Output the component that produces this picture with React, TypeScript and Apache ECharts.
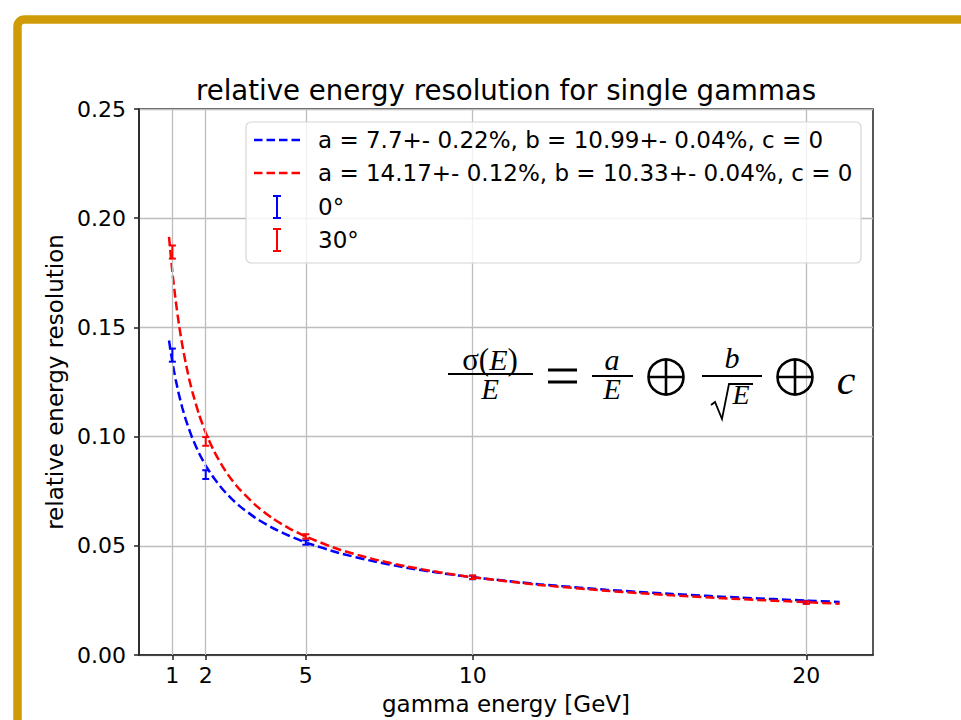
import React, { useEffect, useRef } from "react";
import * as echarts from "echarts";

// Fit curves
const fitEnergies = [0.9, 1, 1.1, 1.2, 1.3, 1.4, 1.5, 1.6, 1.8, 2, 2.25, 2.5, 2.75, 3, 3.5, 4, 4.5, 5, 6, 7, 8, 9, 10, 12, 14, 16, 18, 20, 21];
const fitBlue = [0.144, 0.1342, 0.126, 0.1191, 0.1131, 0.1079, 0.1034, 0.0993, 0.0924, 0.0867, 0.0809, 0.076, 0.0719, 0.0684, 0.0627, 0.0582, 0.0546, 0.0515, 0.0467, 0.043, 0.04, 0.0376, 0.0356, 0.0324, 0.0299, 0.0279, 0.0263, 0.0249, 0.0243];
const fitRed = [0.1914, 0.1754, 0.1622, 0.1511, 0.1417, 0.1337, 0.1266, 0.1205, 0.1101, 0.1018, 0.0933, 0.0865, 0.0808, 0.0761, 0.0685, 0.0626, 0.058, 0.0542, 0.0483, 0.044, 0.0406, 0.0379, 0.0356, 0.0321, 0.0294, 0.0273, 0.0256, 0.0242, 0.0235];

// Measured points with errors
const measEnergies = [1, 2, 5, 10, 20];
const meas0 = [0.1373, 0.0826, 0.0515, 0.0355, 0.0242];
const err0 = [0.003, 0.002, 0.001, 0.0008, 0.0006];
const meas30 = [0.1845, 0.0978, 0.0543, 0.0356, 0.024];
const err30 = [0.003, 0.002, 0.001, 0.0008, 0.0006];

const xTicks = [1, 2, 5, 10, 20];

const legendLabels = [
  "a = 7.7+- 0.22%, b = 10.99+- 0.04%, c = 0",
  "a = 14.17+- 0.12%, b = 10.33+- 0.04%, c = 0",
  "0°",
  "30°",
];

const BLUE = "#0000ff";
const RED = "#ff0000";
const SANS = "DejaVu Sans";
const SERIF = "Liberation Serif";

function errorSeries(name: string, color: string, ys: number[], errs: number[]) {
  return {
    name,
    type: "custom",
    z: 5,
    data: measEnergies.map((e, i) => [e, ys[i], errs[i]]),
    encode: { x: 0, y: 1 },
    renderItem: (params: any, api: any) => {
      const x = api.value(0);
      const y = api.value(1);
      const e = api.value(2);
      const top = api.coord([x, y + e]);
      const bot = api.coord([x, y - e]);
      const hw = 3.5;
      const st = { stroke: color, lineWidth: 2 };
      return {
        type: "group",
        children: [
          { type: "line", shape: { x1: top[0], y1: top[1], x2: bot[0], y2: bot[1] }, style: st },
          { type: "line", shape: { x1: top[0] - hw, y1: top[1], x2: top[0] + hw, y2: top[1] }, style: st },
          { type: "line", shape: { x1: bot[0] - hw, y1: bot[1], x2: bot[0] + hw, y2: bot[1] }, style: st },
        ],
      };
    },
  };
}

function oplus(cx: number, cy: number, r: number) {
  const st = { stroke: "#000", lineWidth: 2.6, fill: "none" };
  return [
    { type: "circle", shape: { cx, cy, r }, style: st, z: 50 },
    { type: "line", shape: { x1: cx - r, y1: cy, x2: cx + r, y2: cy }, style: st, z: 50 },
    { type: "line", shape: { x1: cx, y1: cy - r, x2: cx, y2: cy + r }, style: st, z: 50 },
  ];
}

function legendGraphics() {
  const els: any[] = [];
  els.push({
    type: "rect",
    shape: { x: 246, y: 122, width: 615, height: 141, r: 5 },
    style: { fill: "rgba(255,255,255,0.8)", stroke: "#d6d6d6", lineWidth: 1.2 },
    z: 100,
  });
  const rowsY = [140, 173, 207, 240];
  const colors = [BLUE, RED, BLUE, RED];
  rowsY.forEach((y, i) => {
    if (i < 2) {
      els.push({
        type: "line",
        shape: { x1: 254, y1: y, x2: 301, y2: y },
        style: { stroke: colors[i], lineWidth: 2.4, lineDash: [8.5, 4] },
        z: 101,
      });
    } else {
      const st = { stroke: colors[i], lineWidth: 2 };
      els.push({ type: "line", shape: { x1: 277, y1: y - 11, x2: 277, y2: y + 11 }, style: st, z: 101 });
      els.push({ type: "line", shape: { x1: 273, y1: y - 11, x2: 281, y2: y - 11 }, style: st, z: 101 });
      els.push({ type: "line", shape: { x1: 273, y1: y + 11, x2: 281, y2: y + 11 }, style: st, z: 101 });
    }
    els.push({
      type: "text",
      x: 318,
      y,
      style: {
        text: legendLabels[i],
        fontFamily: SANS,
        fontSize: 23,
        fill: "#000",
        verticalAlign: "middle",
        align: "left",
      },
      z: 101,
    });
  });
  return els;
}

function formulaGraphics() {
  const els: any[] = [];
  const txt = (x: number, y: number, text: string, size: number, italic: boolean) => ({
    type: "text",
    x,
    y,
    style: {
      text,
      fontFamily: SERIF,
      fontSize: size,
      fontStyle: italic ? "italic" : "normal",
      fill: "#000",
      align: "center",
      verticalAlign: "middle",
    },
    z: 50,
  });
  const bar = (x1: number, x2: number, y: number) => ({
    type: "line",
    shape: { x1, y1: y, x2, y2: y },
    style: { stroke: "#000", lineWidth: 2 },
    z: 50,
  });
  // sigma(E) / E
  els.push({
    type: "text",
    x: 490,
    y: 359,
    style: {
      text: "{u|σ(}{i|E}{u|)}",
      rich: {
        u: { fontFamily: SERIF, fontSize: 31, fill: "#000" },
        i: { fontFamily: SERIF, fontSize: 30, fontStyle: "italic", fill: "#000" },
      },
      align: "center",
      verticalAlign: "middle",
    },
    z: 50,
  });
  els.push(bar(448, 533, 374));
  els.push(txt(490, 389, "E", 29, true));
  // equals
  els.push({ type: "line", shape: { x1: 548, y1: 370, x2: 577, y2: 370 }, style: { stroke: "#000", lineWidth: 3 }, z: 50 });
  els.push({ type: "line", shape: { x1: 548, y1: 382, x2: 577, y2: 382 }, style: { stroke: "#000", lineWidth: 3 }, z: 50 });
  // a / E
  els.push(txt(612, 359, "a", 30, true));
  els.push(bar(592, 633, 376));
  els.push(txt(612, 389, "E", 29, true));
  els.push(...oplus(666, 377, 17.5));
  // b / sqrt(E)
  els.push(txt(732, 357, "b", 30, true));
  els.push(bar(702, 762, 376));
  els.push({
    type: "polyline",
    shape: { points: [[711, 405], [715, 402], [722, 419], [729, 384], [753, 384]] },
    style: { stroke: "#000", lineWidth: 1.8, fill: "none" },
    z: 50,
  });
  els.push(txt(741, 394, "E", 28, true));
  els.push(...oplus(795, 377, 17.5));
  // c
  els.push(txt(846, 380, "c", 42, true));
  return els;
}

export default function App() {
  const ref = useRef<HTMLDivElement>(null);
  useEffect(() => {
    if (!ref.current) return;
    const chart = echarts.init(ref.current, undefined, { renderer: "svg" });
    const axisColor = "#222";
    chart.setOption({
      animation: false,
      backgroundColor: "#fff",
      title: {
        text: "relative energy resolution for single gammas",
        left: 506,
        top: 76,
        padding: 0,
        textAlign: "center",
        textStyle: { fontFamily: SANS, fontSize: 27.6, fontWeight: "normal", color: "#000" },
      },
      grid: {
        left: 139,
        right: 88,
        top: 109,
        bottom: 64,
        show: true,
        borderColor: axisColor,
        borderWidth: 1.5,
        backgroundColor: "transparent",
      },
      xAxis: {
        type: "value",
        min: 0,
        max: 22,
        name: "gamma energy [GeV]",
        nameLocation: "middle",
        nameGap: 37,
        nameTextStyle: { fontFamily: SANS, fontSize: 23, color: "#000" },
        axisLine: { show: true, lineStyle: { color: axisColor, width: 1.5 } },
        axisTick: { show: true, length: 5, customValues: xTicks, lineStyle: { color: axisColor, width: 1.5 } },
        axisLabel: {
          customValues: xTicks,
          fontFamily: SANS,
          fontSize: 22,
          color: "#000",
          margin: 9,
        },
        splitLine: { show: false },
      },
      yAxis: {
        type: "value",
        min: 0,
        max: 0.25,
        interval: 0.05,
        name: "relative energy resolution",
        nameLocation: "middle",
        nameGap: 70,
        nameTextStyle: { fontFamily: SANS, fontSize: 23, color: "#000" },
        axisLine: { show: true, lineStyle: { color: axisColor, width: 1.5 } },
        axisTick: { show: true, length: 5, lineStyle: { color: axisColor, width: 1.5 } },
        axisLabel: {
          fontFamily: SANS,
          fontSize: 22,
          color: "#000",
          margin: 13,
          formatter: (v: number) => v.toFixed(2),
        },
        splitLine: { show: true, lineStyle: { color: "#bdbdbd", width: 1.3 } },
      },
      series: [
        {
          name: "grid-x",
          type: "line",
          data: [],
          z: 1,
          silent: true,
          markLine: {
            silent: true,
            symbol: "none",
            label: { show: false },
            lineStyle: { color: "#bdbdbd", width: 1.3, type: "solid" },
            data: xTicks.map((v) => ({ xAxis: v })),
          },
        },
        {
          name: legendLabels[0],
          type: "line",
          z: 3,
          data: fitEnergies.map((e, i) => [e, fitBlue[i]]),
          showSymbol: false,
          symbol: "none",
          smooth: 0.2,
          lineStyle: { color: BLUE, width: 2.5, type: [9, 4] },
        },
        {
          name: legendLabels[1],
          type: "line",
          z: 3,
          data: fitEnergies.map((e, i) => [e, fitRed[i]]),
          showSymbol: false,
          symbol: "none",
          smooth: 0.2,
          lineStyle: { color: RED, width: 2.5, type: [9, 4] },
        },
        errorSeries(legendLabels[2], BLUE, meas0, err0),
        errorSeries(legendLabels[3], RED, meas30, err30),
      ],
      graphic: [
        {
          type: "rect",
          shape: { x: 17.5, y: 19.5, width: 1100, height: 900, r: 7 },
          style: { fill: "none", stroke: "#cf9c08", lineWidth: 8.5 },
          z: 200,
        },
        ...legendGraphics(),
        ...formulaGraphics(),
      ],
    });
    return () => chart.dispose();
  }, []);
  return (
    <div
      ref={ref}
      style={{ position: "absolute", left: 0, top: 0, width: 961, height: 720, background: "#fff" }}
    />
  );
}
